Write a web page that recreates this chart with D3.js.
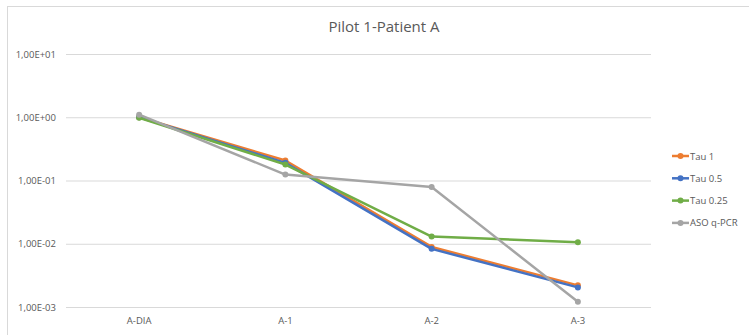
<!DOCTYPE html>
<html><head><meta charset="utf-8">
<script src="https://cdn.jsdelivr.net/npm/d3@7/dist/d3.min.js"></script>
<style>body{margin:0;background:#fff}svg{display:block}</style>
</head><body><svg id="c" width="749" height="335"></svg>
<script>
const categories = ["A-DIA", "A-1", "A-2", "A-3"];
const seriesNames = ["Tau 1", "Tau 0.5", "Tau 0.25", "ASO q-PCR"];
const tau1 = [1.0, 0.207, 0.0089, 0.0022];
const tau05 = [1.0, 0.19, 0.0083, 0.00204];
const tau025 = [0.98, 0.179, 0.013, 0.0106];
const aso = [1.1, 0.124, 0.079, 0.00121];
const yTicks = [1e-3, 1e-2, 1e-1, 1, 10];
const yTickLabels = ["1,00E-03", "1,00E-02", "1,00E-01", "1,00E+00", "1,00E+01"];
const colors = ["#ED7D31", "#4472C4", "#70AD47", "#A5A5A5"];
const title = "Pilot 1-Patient A";

const series = [tau1, tau05, tau025, aso].map((v, i) => ({name: seriesNames[i], values: v, color: colors[i]}));
const svg = d3.select("#c");
const font = "'Liberation Sans Narrow','Open Sans',sans-serif";
svg.append("rect").attr("x", 7.5).attr("y", 6.5).attr("width", 760).attr("height", 340)
  .attr("fill", "#fff").attr("stroke", "#d9d9d9");

const x = d3.scaleBand().domain(categories).range([66, 651]);
const y = d3.scaleLog().domain([1e-3, 10]).range([307, 54]);

svg.append("text").attr("x", 384).attr("y", 32).attr("text-anchor", "middle")
  .attr("font-family", font).attr("font-size", 15).attr("fill", "#595959").text(title);

const yAxis = svg.append("g").attr("transform", "translate(66,0)")
  .call(d3.axisLeft(y).tickValues(yTicks).tickFormat((d, i) => yTickLabels[i]).tickSize(-585).tickPadding(10));
yAxis.select(".domain").remove();
yAxis.selectAll("line").attr("stroke", "#d9d9d9").attr("stroke-width", 1);
yAxis.selectAll("text").attr("font-family", font).attr("font-size", 9.5).attr("fill", "#595959");

const xAxis = svg.append("g").attr("transform", "translate(0,307)")
  .call(d3.axisBottom(x).tickSize(0).tickPadding(10));
xAxis.select(".domain").remove();
xAxis.selectAll("text").attr("font-family", font).attr("font-size", 9.5).attr("fill", "#595959");

const line = d3.line().x((d, i) => x(categories[i]) + x.bandwidth() / 2).y(d => y(d));
series.forEach(s => {
  const g = svg.append("g");
  g.append("path").attr("d", line(s.values)).attr("fill", "none").attr("stroke", s.color)
    .attr("stroke-width", 2.5).attr("stroke-linejoin", "round").attr("stroke-linecap", "round");
  g.selectAll("circle").data(s.values).join("circle")
    .attr("cx", (d, i) => x(categories[i]) + x.bandwidth() / 2).attr("cy", d => y(d))
    .attr("r", 3).attr("fill", s.color);
});

const leg = svg.append("g");
series.forEach((s, i) => {
  const yy = 156 + i * 22.3;
  leg.append("line").attr("x1", 672).attr("x2", 689).attr("y1", yy).attr("y2", yy)
    .attr("stroke", s.color).attr("stroke-width", 2.5);
  leg.append("circle").attr("cx", 680.5).attr("cy", yy).attr("r", 3).attr("fill", s.color);
  leg.append("text").attr("x", 690).attr("y", yy + 3.5).attr("font-family", font)
    .attr("font-size", 9.5).attr("fill", "#595959").text(s.name);
});
</script></body></html>
